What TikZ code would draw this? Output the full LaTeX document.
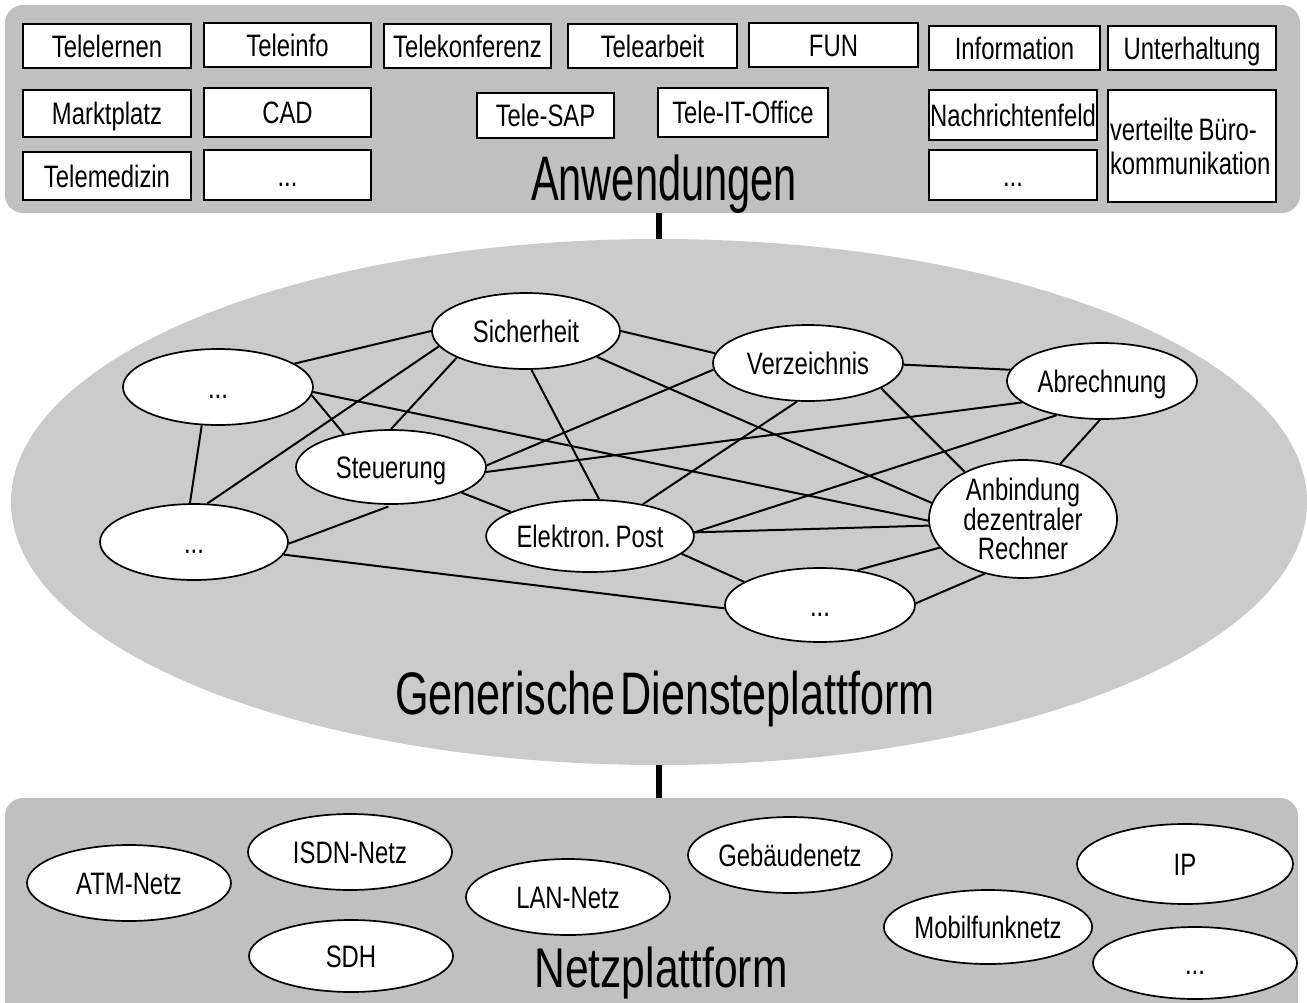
\documentclass[tikz,border=0pt]{standalone}
\usepackage{fontspec}
\setmainfont[FakeStretch=0.77]{Liberation Sans}
\newfontfamily\titlefont{Liberation Sans}
\usetikzlibrary{shapes.geometric}
\definecolor{panelgray}{RGB}{192,192,192}
\definecolor{platgray}{RGB}{203,203,203}
\begin{document}
\begin{tikzpicture}[x=1pt,y=-1pt,
  panel/.style={draw=none, fill=panelgray, rounded corners=18pt, inner sep=0pt},
  appbox/.style={draw, line width=1.7pt, fill=white, inner sep=0pt, text height=24pt, text depth=2pt, font=\fontsize{31}{31}\selectfont},
  appbox2/.style={draw, line width=1.7pt, fill=white, inner sep=0pt, font=\fontsize{31}{33}\selectfont},
  svc/.style={ellipse, draw, line width=1.7pt, fill=white, inner sep=0pt, text height=24pt, text depth=2pt, font=\fontsize{31}{31}\selectfont},
  svc2/.style={ellipse, draw, line width=1.7pt, fill=white, inner sep=0pt, align=center, font=\fontsize{31}{29.5}\selectfont},
  link/.style={line width=2pt},
  conn/.style={line width=6pt},
  title/.style={inner sep=0pt, anchor=base}
]
\useasboundingbox (0,0) rectangle (1307,1002);
\clip (0,0) rectangle (1307,1002);

% ---------- panels ----------
\node[panel, minimum width=1295pt, minimum height=208pt] (top) at (652.5,109) {};
\node[ellipse, fill=platgray, inner sep=0pt, minimum width=1296pt, minimum height=526pt] (dp) at (659,502) {};
\node[panel, minimum width=1293pt, minimum height=230pt] (bot) at (651.5,913) {};

\draw[conn] (dp.north |- top.south) -- (dp.north);
\draw[conn] (dp.south) -- (dp.south |- bot.north);

% ---------- Anwendungen ----------
\node[appbox, minimum width=168pt, minimum height=44pt] (tlern) at (107,46) {Telelernen};
\node[appbox, minimum width=167pt, minimum height=44pt] (tinfo) at (287.5,45) {Teleinfo};
\node[appbox, minimum width=167pt, minimum height=44pt] (tkonf) at (467.5,46) {Telekonferenz};
\node[appbox, minimum width=169pt, minimum height=44pt] (tarb) at (652.5,46) {Telearbeit};
\node[appbox, minimum width=169pt, minimum height=44pt] (fun) at (833.5,45) {FUN};
\node[appbox, minimum width=171pt, minimum height=44pt] (info) at (1014.5,48) {Information};
\node[appbox, minimum width=168pt, minimum height=44pt] (unter) at (1192,48) {Unterhaltung};

\node[appbox, minimum width=168pt, minimum height=47pt] (markt) at (107,113.5) {Marktplatz};
\node[appbox, minimum width=167pt, minimum height=49pt] (cad) at (287.5,112.5) {CAD};
\node[appbox, minimum width=137pt, minimum height=45pt] (tsap) at (545.5,115.5) {Tele-SAP};
\node[appbox, minimum width=170pt, minimum height=49pt] (tito) at (743,112.5) {Tele-IT-Office};
\node[appbox, minimum width=168pt, minimum height=50pt] (nachr) at (1013,115) {Nachrichtenfeld};
\node[appbox2, minimum width=168pt, minimum height=112pt, align=left, text width=164pt] (vbk) at (1192,146) {verteilte\kern5pt Büro-\\[1pt]kommunikation};

\node[appbox, minimum width=168pt, minimum height=48pt] (tmed) at (107,176) {Telemedizin};
\node[appbox, minimum width=167pt, minimum height=50pt] (dotsa) at (287.5,175) {...};
\node[appbox, minimum width=168pt, minimum height=50pt] (dotsb) at (1013,175) {...};

\node[title] (tanw) at (664,200) {\scalebox{0.66}[1]{\titlefont\fontsize{63}{63}\selectfont Anwendungen}};

% ---------- Generische Diensteplattform ----------
\node[svc, minimum width=188pt, minimum height=76pt] (sich) at (526,331) {Sicherheit};
\node[svc, minimum width=190pt, minimum height=76pt] (d1) at (218,387) {...};
\node[svc, minimum width=190pt, minimum height=74pt] (steu) at (391,467) {Steuerung};
\node[svc, minimum width=188pt, minimum height=76pt] (d2) at (194,542) {...};
\node[svc, minimum width=190pt, minimum height=72pt] (post) at (590,536) {Elektron.\kern5pt Post};
\node[svc, minimum width=190pt, minimum height=76pt] (verz) at (808,363) {Verzeichnis};
\node[svc, minimum width=190pt, minimum height=76pt] (abr) at (1102,381) {Abrechnung};
\node[svc2, minimum width=188pt, minimum height=118pt] (anb) at (1023,519) {Anbindung\\dezentraler\\Rechner};
\node[svc, minimum width=190pt, minimum height=74pt] (d3) at (820,605) {...};

\draw[link] (d1.17) -- (sich.180);
\draw[link] (d2.71) -- (sich.190);
\draw[link] (steu.90) -- (sich.201);
\draw[link] (post.76) -- (sich.278);
\draw[link] (sich.0) -- (verz.174);
\draw[link] (sich.340) -- (anb.170);
\draw[link] (d1.357) -- (anb.181);
\draw[link] (d1.355) -- (steu.145);
\draw[link] (d1.247) -- (d2.96);
\draw[link] (steu.1) -- (verz.184);
\draw[link] (steu.357) -- (abr.195);
\draw[link] (steu.340) -- (post.163);
\draw[link, shorten <=5pt] (steu.273) -- (d2.359);
\draw[link] (d2.352) -- (d3.182);
\draw[link] (post.31) -- (verz.254);
\draw[link] (post.2) -- (abr.217);
\draw[link] (post.2) -- (anb.184);
\draw[link] (post.349) -- (d3.163);
\draw[link] (verz.359) -- (abr.173);
\draw[link] (verz.341) -- (anb.141);
\draw[link] (abr.267) -- (anb.56);
\draw[link] (d3.43) -- (anb.199);
\draw[link] (d3.1) -- (anb.235);

\node[title] (tgen) at (665,714) {\scalebox{0.72}[1]{\titlefont\fontsize{60}{60}\selectfont Generische\kern6pt Diensteplattform}};

% ---------- Netzplattform ----------
\node[svc, minimum width=204pt, minimum height=76pt] (atm) at (129,883) {ATM-Netz};
\node[svc, minimum width=204pt, minimum height=76pt] (isdn) at (350,852) {ISDN-Netz};
\node[svc, minimum width=204pt, minimum height=72pt] (sdh) at (351,956) {SDH};
\node[svc, minimum width=204pt, minimum height=76pt] (lan) at (568,897) {LAN-Netz};
\node[svc, minimum width=204pt, minimum height=76pt] (geb) at (790,855) {Gebäudenetz};
\node[svc, minimum width=194pt, minimum height=74pt] (mob) at (988,927) {Mobilfunknetz};
\node[svc, minimum width=216pt, minimum height=80pt] (ip) at (1185,864) {IP};
\node[svc, minimum width=204pt, minimum height=72pt] (bd) at (1195,963) {...};

\node[title] (tnetz) at (661,987) {\scalebox{0.76}[1]{\titlefont\fontsize{56}{56}\selectfont Netzplattform}};
\end{tikzpicture}
\end{document}
